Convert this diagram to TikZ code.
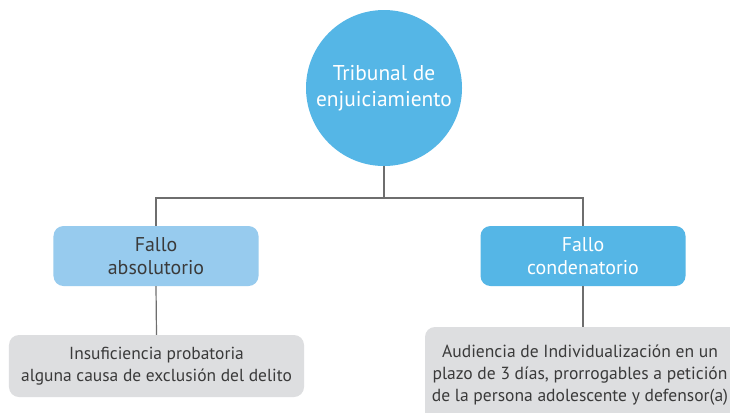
\documentclass[tikz,border=0pt]{standalone}
\usepackage{fontspec}
\setmainfont{PT Sans}
\definecolor{cblue}{HTML}{55B6E6}
\definecolor{lblue}{HTML}{97CBEE}
\definecolor{gbox}{HTML}{DDDEE0}
\definecolor{txt}{HTML}{3A3A3A}
\definecolor{ln}{HTML}{6E6E6E}
\begin{document}
\begin{tikzpicture}[x=1bp,y=-1bp,
  conn/.style={draw=ln,line width=1.2bp},
  fallo/.style={rectangle,rounded corners=10bp,minimum width=205bp,minimum height=60bp,align=center,font=\fontsize{20}{23}\selectfont,inner sep=0pt},
  greybox/.style={rectangle,rounded corners=10bp,fill=gbox,align=center,text=txt,font=\fontsize{17.5}{21.5}\selectfont,inner sep=0pt}]
\clip (0,0) rectangle (730,412);
\fill[white] (0,0) rectangle (730,412);
\node[circle,fill=cblue,minimum size=156bp,inner sep=0pt,align=center,text=white,font=\fontsize{21.5}{25.5}\selectfont] (circ) at (384,88) {Tribunal de\\enjuiciamiento};
\node[fallo,fill=lblue,text=txt] (abs) at (156,256) {Fallo\\absolutorio};
\node[fallo,fill=cblue,text=white] (con) at (583,256) {Fallo\\condenatorio};
\node[greybox,minimum width=295bp,minimum height=62bp] (ins) at (156.5,366) {Insuficiencia probatoria\\alguna causa de exclusión del delito};
\node[greybox,minimum width=316bp,minimum height=98bp] (aud) at (583,376) {};
\node[align=center,text=txt,font=\fontsize{17.6}{22}\selectfont,inner sep=0pt] (audt) at (580,375) {Audiencia de Individualización en un\\plazo de 3 días, prorrogables a petición\\de la persona adolescente y defensor(a)};
\coordinate (j) at (384,198);
\draw[conn] (circ.south) -- (j);
\draw[conn] (abs.north) |- (j) -| (con.north);
\draw[conn] (abs.south) -- (ins.north);
\draw[conn] (con.south) -- (aud.north);
\end{tikzpicture}
\end{document}
